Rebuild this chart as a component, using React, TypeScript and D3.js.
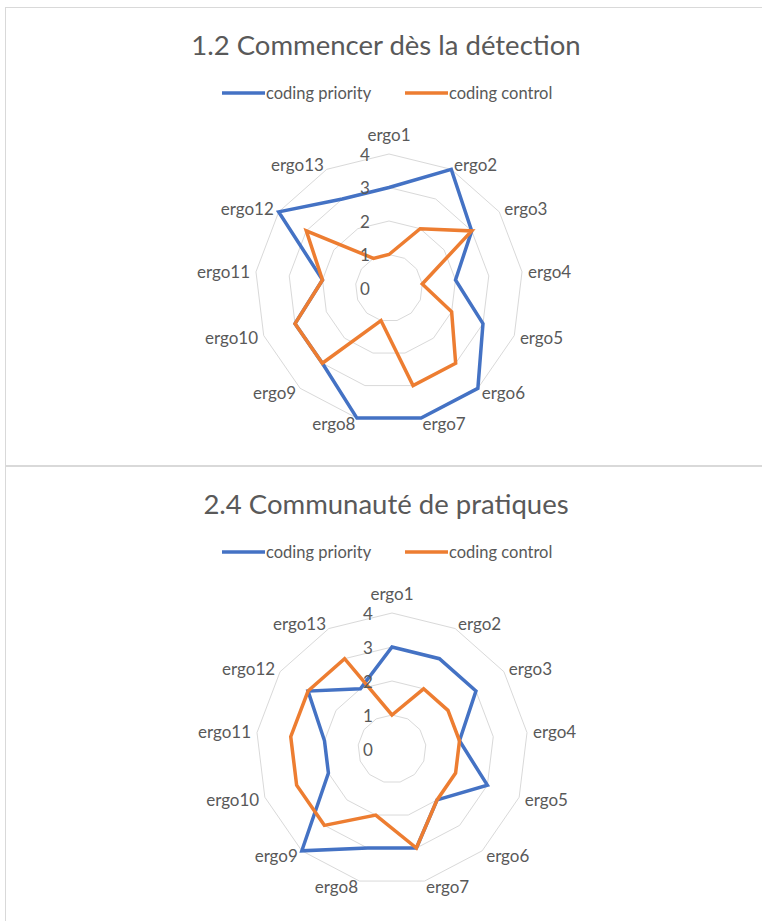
import React from "react";
import * as d3 from "d3";

const categories = ["ergo1", "ergo2", "ergo3", "ergo4", "ergo5", "ergo6", "ergo7", "ergo8", "ergo9", "ergo10", "ergo11", "ergo12", "ergo13"];
const tickValues = [0, 1, 2, 3, 4];
const seriesNames = ["coding priority", "coding control"];
const seriesColors = ["#4472C4", "#ED7D31"];

const titles = ["1.2 Commencer dès la détection", "2.4 Communauté de pratiques"];
const priority1 = [3, 4, 3, 2, 3, 4, 4, 4, 3, 3, 2, 4, 3];
const control1 = [1, 2, 3, 1, 2, 3, 3, 1, 3, 3, 2, 3, 1];
const priority2 = [3, 3, 3, 2, 3, 2, 3, 3, 4, 2, 2, 3, 2];
const control2 = [1, 2, 2, 2, 2, 2, 3, 2, 3, 3, 3, 3, 3];

const FONT = "Lato, 'Open Sans', sans-serif";
const TEXT = "#595959";
const GRID = "#d9d9d9";

type PanelProps = {
  top: number;
  height: number;
  title: string;
  series: number[][];
  cx: number;
  cy: number;
  radius: number;
};

function RadarPanel({ top, height, title, series, cx, cy, radius }: PanelProps) {
  const angle = d3
    .scalePoint<string>()
    .domain(categories)
    .range([0, (2 * Math.PI * (categories.length - 1)) / categories.length]);
  const r = d3.scaleLinear().domain([0, 4]).range([0, radius]);

  const ring = (v: number) =>
    d3
      .lineRadial<string>()
      .angle((c) => angle(c)!)
      .radius(() => r(v))
      .curve(d3.curveLinearClosed)(categories);

  const seriesPath = (vals: number[]) =>
    d3
      .lineRadial<number>()
      .angle((_, i) => angle(categories[i])!)
      .radius((d) => r(d))
      .curve(d3.curveLinearClosed)(vals);

  const legendX = [222, 405];

  return (
    <g transform={`translate(0,${top})`}>
      <text x={386} y={37} textAnchor="middle" dominantBaseline="central" fontSize={27.5} fill={TEXT} fontFamily={FONT}>
        {title}
      </text>
      {seriesNames.map((name, i) => (
        <g key={name} transform={`translate(${legendX[i]},86)`}>
          <line x1={0} x2={43} y1={0} y2={0} stroke={seriesColors[i]} strokeWidth={3.5} />
          <text x={44} y={0} dominantBaseline="central" fontSize={16.5} fill={TEXT} fontFamily={FONT}>
            {name}
          </text>
        </g>
      ))}
      <g transform={`translate(${cx},${cy - top})`}>
        {tickValues.slice(1).map((v) => (
          <path key={v} d={ring(v) ?? ""} fill="none" stroke={GRID} strokeWidth={1} />
        ))}
        {series.map((vals, i) => (
          <path key={i} d={seriesPath(vals) ?? ""} fill="none" stroke={seriesColors[i]} strokeWidth={3.5} strokeLinejoin="miter" />
        ))}
        {tickValues.map((v) => (
          <text key={v} x={-24} y={-r(v)} textAnchor="middle" dominantBaseline="central" fontSize={17} fill={TEXT} fontFamily={FONT}>
            {v}
          </text>
        ))}
        {categories.map((c) => {
          const a = angle(c)!;
          const s = Math.sin(a);
          const co = Math.cos(a);
          const px = (radius + 6) * s;
          const py = -(radius + 6) * co;
          const anchor = Math.abs(s) < 0.1 ? "middle" : s > 0 ? "start" : "end";
          const dy = Math.abs(s) < 0.1 ? -co * 14 : 0;
          return (
            <text key={c} x={px} y={py + dy} textAnchor={anchor} dominantBaseline="central" fontSize={17} fill={TEXT} fontFamily={FONT}>
              {c}
            </text>
          );
        })}
      </g>
      <rect x={5.5} y={0.5} width={800} height={height} fill="none" stroke="#d9d9d9" strokeWidth={1} />
    </g>
  );
}

export default function App() {
  return (
    <svg width={762} height={921} style={{ position: "absolute", left: 0, top: 0, background: "#fff" }}>
      <rect width={762} height={921} fill="#fff" />
      <RadarPanel top={7} height={458} title={titles[0]} series={[priority1, control1]} cx={389} cy={288} radius={134} />
      <RadarPanel top={466} height={500} title={titles[1]} series={[priority2, control2]} cx={392} cy={749} radius={136} />
    </svg>
  );
}
